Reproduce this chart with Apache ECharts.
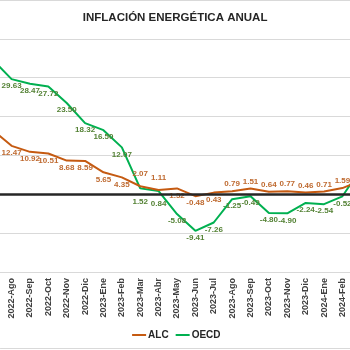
<!DOCTYPE html>
<html>
<head>
<meta charset="utf-8">
<script src="https://cdn.jsdelivr.net/npm/echarts@6/dist/echarts.min.js"></script>
<style>
  html, body { margin: 0; padding: 0; background: #fff; overflow: hidden; width: 350px; height: 350px; }
  /* the reference is cropped: first and last month fall outside the window */
  #chart { position: absolute; left: -16.1px; top: 0; width: 386.4px; height: 350px; }
</style>
</head>
<body>
<div id="chart"></div>
<script>
const months = ['2022-Jul', '2022-Ago', '2022-Sep', '2022-Oct', '2022-Nov', '2022-Dic', '2023-Ene', '2023-Feb',
  '2023-Mar', '2023-Abr', '2023-May', '2023-Jun', '2023-Jul', '2023-Ago', '2023-Sep', '2023-Oct', '2023-Nov',
  '2023-Dic', '2024-Ene', '2024-Feb', '2024-Mar']
const alc = [16.4, 12.47, 10.92, 10.51, 8.68, 8.59, 5.65, 4.35, 2.07, 1.11, 1.52, -0.48, 0.43, 0.79, 1.51, 0.64,
  0.77, 0.46, 0.71, 1.59, 3.5]
const oecd = [34.5, 29.63, 28.47, 27.72, 23.5, 18.32, 16.5, 12.07, 1.52, 0.84, -5.08, -9.41, -7.26, -1.25, -0.49,
  -4.8, -4.9, -2.24, -2.54, -0.52, 6.5]
const yTicks = { min: -20, max: 50, step: 10 }

const font = 'Liberation Sans'
const alcColor = '#C55A11'
const oecdColor = '#00B050'
const last = months.length - 1
const shift = 16.1 // container offset to the left

const alcData = alc.map((v, i) => {
  const above = i === 8 || i === 9 || i >= 13
  return {
    value: v,
    label: {
      show: i > 0 && i < last,
      position: above ? 'top' : 'bottom',
      distance: (i === 8 || i === 9) ? 8 : 3,
    },
  }
})

const oecdData = oecd.map((v, i) => ({
  value: v,
  label: {
    show: i > 0 && i < last,
    position: 'bottom',
    distance: (i === 8 || i === 9) ? 9 : 3,
  },
}))

const labelBase = {
  show: true,
  fontFamily: font,
  fontSize: 8,
  fontWeight: 'bold',
  formatter: (p) => p.value.toFixed(2),
}

const chart = echarts.init(document.getElementById('chart'))
chart.setOption({
  animation: false,
  title: {
    text: 'INFLACIÓN ENERGÉTICA ANUAL',
    left: 170 + shift,
    textAlign: 'center',
    top: 7,
    textStyle: { fontFamily: font, fontSize: 11.5, fontWeight: 'bold', color: '#262626' },
  },
  grid: { left: 0, right: 0, top: 0, bottom: 78 },
  legend: {
    data: ['ALC', 'OECD'],
    bottom: 5,
    left: 127 + shift,
    icon: 'rect',
    itemWidth: 14,
    itemHeight: 2,
    itemGap: 7,
    textStyle: { fontFamily: font, fontSize: 10, fontWeight: 'bold', color: '#262626', padding: [0, 0, 0, -3] },
  },
  xAxis: {
    type: 'category',
    data: months,
    axisLine: { show: false },
    axisTick: { show: false },
    axisLabel: {
      rotate: 90,
      interval: 0,
      margin: 6,
      fontFamily: font,
      fontSize: 9,
      fontWeight: 'bold',
      color: '#404040',
    },
  },
  yAxis: {
    type: 'value',
    min: yTicks.min,
    max: yTicks.max,
    interval: yTicks.step,
    axisLabel: { show: false },
    axisLine: { show: false },
    axisTick: { show: false },
    splitLine: { lineStyle: { color: '#D9D9D9', width: 1 } },
  },
  graphic: [
    { type: 'line', shape: { x1: shift, y1: 348.5, x2: 350 + shift, y2: 348.5 }, style: { stroke: '#D9D9D9', lineWidth: 1 } },
  ],
  series: [
    {
      name: 'zero',
      type: 'line',
      data: [],
      z: 1,
      markLine: {
        silent: true,
        symbol: 'none',
        label: { show: false },
        lineStyle: { color: '#262626', width: 2.5, type: 'solid' },
        data: [{ yAxis: 0 }],
      },
    },
    {
      name: 'OECD',
      type: 'line',
      data: oecdData,
      symbol: 'circle',
      symbolSize: 0,
      showSymbol: true,
      z: 3,
      lineStyle: { color: oecdColor, width: 2 },
      itemStyle: { color: oecdColor },
      label: { ...labelBase, color: '#548235' },
    },
    {
      name: 'ALC',
      type: 'line',
      data: alcData,
      symbol: 'circle',
      symbolSize: 0,
      showSymbol: true,
      z: 4,
      lineStyle: { color: alcColor, width: 2 },
      itemStyle: { color: alcColor },
      label: { ...labelBase, color: '#BF6A30' },
    },
  ],
})
</script>
</body>
</html>
